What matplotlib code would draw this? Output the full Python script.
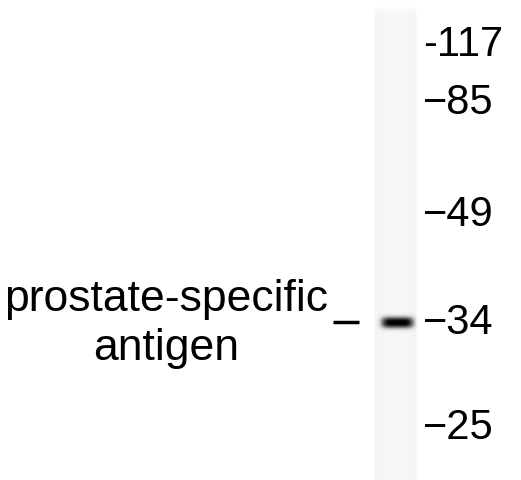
import numpy as np
import matplotlib.pyplot as plt

plt.rcParams['font.family'] = ['Liberation Sans', 'DejaVu Sans']

# molecular weight markers (kDa) and where they sit on the blot (pixels from top)
marker_labels = ["-117", "\u221285", "\u221249", "\u221234", "\u221225"]
marker_y = [45, 103, 215, 323, 428]

# detected band
band_name = "prostate-specific\nantigen"
band_y = 322
band_strength = 0.95

fig = plt.figure(figsize=(5.21, 4.8), dpi=100)
ax = fig.add_axes([0, 0, 1, 1])
ax.set_xlim(0, 521)
ax.set_ylim(480, 0)
ax.axis("off")

# lane background, slightly grey with faint vertical streaks
lane_x0, lane_x1, lane_y0, lane_y1 = 373, 418, 5, 480
h, w = lane_y1 - lane_y0, lane_x1 - lane_x0
yy, xx = np.mgrid[0:h, 0:w]
lane = np.full((h, w), 0.075)
lane += 0.012 * np.cos(xx / w * 6.0)
edge = np.clip(np.minimum(xx, w - 1 - xx) / 2.0, 0, 1)
lane *= edge
top = np.clip(yy / 8.0, 0, 1)
lane *= top

# band as a soft blob
by = band_y - lane_y0
cx = 397 - lane_x0
blob = np.exp(-np.abs((yy - by) / 6.0) ** 2.5) * np.exp(-np.abs((xx - cx) / 16.5) ** 5)
img = np.clip(lane + band_strength * blob, 0, 1)
ax.imshow(img, cmap="Greys", vmin=0, vmax=1,
          extent=[lane_x0, lane_x1, lane_y1, lane_y0], aspect="auto",
          interpolation="bilinear")

for lab, y in zip(marker_labels, marker_y):
    ax.text(423, y, lab, fontsize=30, ha="left", va="center", color="black")

ax.text(166, 324, band_name, fontsize=32, ha="center", va="center",
        linespacing=1.25, color="black")
ax.plot([333, 359], [band_y, band_y], color="black", lw=2.5, solid_capstyle="butt")

fig.savefig("out.png", dpi=100)
